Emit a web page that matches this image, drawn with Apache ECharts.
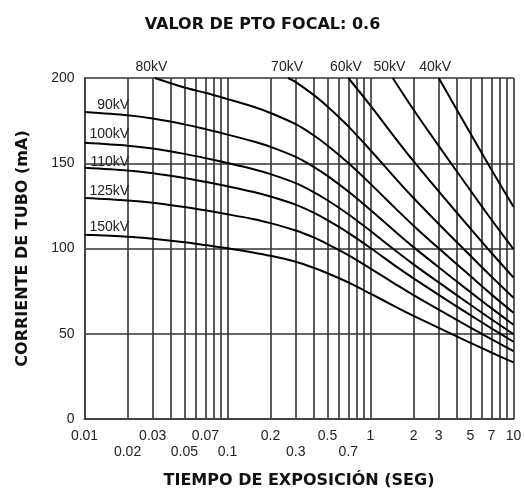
<!DOCTYPE html>
<html>
<head>
<meta charset="utf-8">
<script src="https://cdn.jsdelivr.net/npm/echarts@6/dist/echarts.min.js"></script>
<style>html,body{margin:0;padding:0;background:#fff}#c{width:525px;height:494px}</style>
</head>
<body>
<div id="c"></div>
<script>
// ---- data ----
const seriesNames = ['40kV','50kV','60kV','70kV','80kV','90kV','100kV','110kV','125kV','150kV'];

const tFull = [0.01,0.02,0.03,0.05,0.07,0.1,0.15,0.2,0.3,0.4,0.5,0.7,1,1.5,2,3,5,7,10];
const ma90  = [180.0,178.1,176.2,172.8,170.0,166.8,162.9,159.6,153.7,147.9,142.6,133.4,122.6,109.7,100.8,89.0,74.4,65.0,55.3];
const ma100 = [162.0,160.3,158.6,155.5,153.0,150.1,146.6,143.6,138.3,133.1,128.3,120.1,110.3,98.7,90.7,80.1,67.0,58.5,49.8];
const ma110 = [147.3,145.7,144.2,141.4,139.1,136.5,133.3,130.5,125.7,121.0,116.6,109.2,100.3,89.7,82.5,72.8,60.9,53.2,45.3];
const ma125 = [129.6,128.2,126.9,124.4,122.4,120.1,117.3,114.9,110.6,106.5,102.6,96.1,88.2,79.0,72.6,64.1,53.6,46.8,39.8];
const ma150 = [108.0,106.9,105.7,103.7,102.0,100.1,97.7,95.7,92.2,88.7,85.5,80.1,73.5,65.8,60.5,53.4,44.7,39.0,33.2];

const t80  = [0.031,0.05,0.07,0.1,0.15,0.2,0.3,0.4,0.5,0.7,1,1.5,2,3,5,7,10];
const ma80 = [200,194.4,191.3,187.6,183.3,179.5,172.9,166.4,160.4,150.1,137.9,123.4,113.4,100.1,83.8,73.1,62.3];
const t70  = [0.265,0.3,0.4,0.5,0.7,1,1.5,2,3,5,7,10];
const ma70 = [200,197.6,190.1,183.3,171.6,157.6,141.0,129.6,114.4,95.7,83.6,71.1];
const t60  = [0.7,1,1.5,2,3,5,7,10];
const ma60 = [200,183.8,164.5,151.2,133.5,111.7,97.5,83.0];
const t50  = [1.43,2,3,5,7,10];
const ma50 = [200,181.4,160.2,134.0,117.0,99.6];
const t40  = [3.0,5,7,10];
const ma40 = [200,167.5,146.3,124.5];

const xGridValues = [0.01,0.02,0.03,0.04,0.05,0.06,0.07,0.08,0.09,0.1,0.2,0.3,0.4,0.5,0.6,0.7,0.8,0.9,1,2,3,4,5,6,7,8,9,10];
const xLabelValues = [0.01,0.02,0.03,0.05,0.07,0.1,0.2,0.3,0.5,0.7,1,2,3,5,7,10];
const xLabelTexts  = ['0.01','0.02','0.03','0.05','0.07','0.1','0.2','0.3','0.5','0.7','1','2','3','5','7','10'];
const xLabelLowRow = ['0.02','0.05','0.1','0.3','0.7'];
const yTicks = [0,50,100,150,200];

// ---- label anchors (in data space) ----
const topLabelAnchor = {'80kV':0.0294,'70kV':0.261,'60kV':0.674,'50kV':1.358,'40kV':2.83};
const leftLabelAnchor = {'90kV':184,'100kV':167,'110kV':150.4,'125kV':133.9,'150kV':112.8};

const pair = (ts, vs) => ts.map((t, i) => [t, vs[i]]);
const dataMap = {
  '40kV': pair(t40, ma40), '50kV': pair(t50, ma50), '60kV': pair(t60, ma60),
  '70kV': pair(t70, ma70), '80kV': pair(t80, ma80), '90kV': pair(tFull, ma90),
  '100kV': pair(tFull, ma100), '110kV': pair(tFull, ma110),
  '125kV': pair(tFull, ma125), '150kV': pair(tFull, ma150)
};

const labelFont = {fontFamily:'Liberation Sans, Arial, sans-serif', fontSize:14, color:'#222'};
const boldFont = {fontFamily:'DejaVu Sans, Verdana, sans-serif', fontSize:16, fontWeight:'bold', color:'#111'};

const series = seriesNames.map(name => {
  let mp;
  if (topLabelAnchor[name] !== undefined) {
    mp = {coord:[topLabelAnchor[name], 200], label:{show:true, position:'top', distance:4, formatter:name, ...labelFont}};
  } else {
    mp = {coord:[0.0205, leftLabelAnchor[name]], label:{show:true, position:'left', distance:0, formatter:name, ...labelFont}};
  }
  return {
    name, type:'line', data:dataMap[name], smooth:0.3,
    showSymbol:false, symbol:'none', clip:true,
    lineStyle:{color:'#000', width:2},
    markPoint:{symbol:'circle', symbolSize:0, silent:true, animation:false, data:[mp]},
    animation:false
  };
});

const chart = echarts.init(document.getElementById('c'), null, {renderer:'canvas'});
chart.setOption({
  backgroundColor:'#fff',
  animation:false,
  title:{text:'VALOR DE PTO FOCAL: 0.6', left:'center', top:12, textStyle:boldFont},
  grid:{left:84.5, right:11.5, top:78, bottom:72, containLabel:false},
  xAxis:{
    type:'log', logBase:10, min:0.01, max:10,
    name:'TIEMPO DE EXPOSICIÓN (SEG)', nameLocation:'middle', nameGap:54, nameTextStyle:boldFont,
    axisLine:{show:true, lineStyle:{color:'#444', width:2}},
    axisTick:{show:false, customValues:xGridValues},
    splitLine:{show:true, lineStyle:{color:'#333', width:1.6}},
    axisLabel:{
      customValues:xLabelValues, margin:9, lineHeight:16, ...labelFont,
      formatter:(v) => {
        let idx = 0, best = Infinity;
        xLabelValues.forEach((x, i) => { const d = Math.abs(Math.log10(x) - Math.log10(v)); if (d < best) { best = d; idx = i; } });
        const s = xLabelTexts[idx];
        return xLabelLowRow.includes(s) ? '\n' + s : s;
      }
    }
  },
  yAxis:{
    type:'value', min:0, max:200, interval:50,
    name:'CORRIENTE DE TUBO (mA)', nameLocation:'middle', nameGap:54, nameTextStyle:boldFont,
    axisLine:{show:true, lineStyle:{color:'#444', width:2}},
    axisTick:{show:false},
    splitLine:{show:true, lineStyle:{color:'#333', width:1.6}},
    axisLabel:{margin:10, ...labelFont}
  },
  series
});
</script>
</body>
</html>
